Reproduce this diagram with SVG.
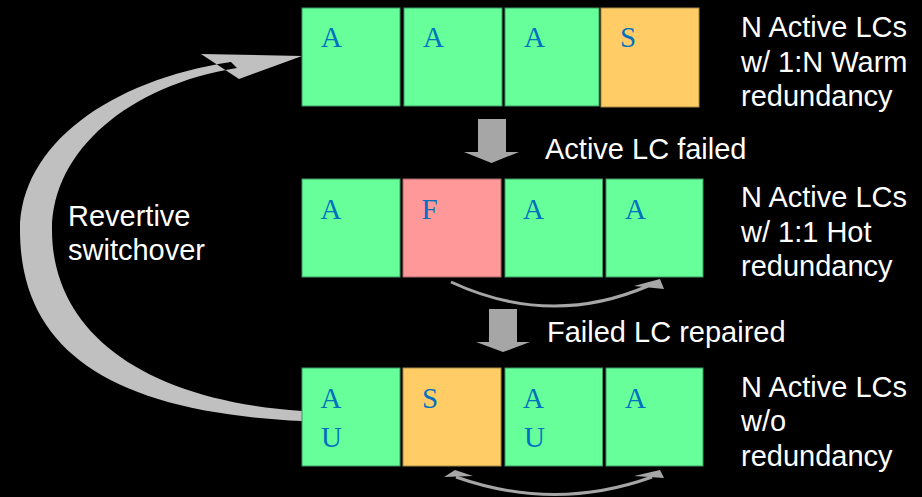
<svg xmlns="http://www.w3.org/2000/svg" width="922" height="497" viewBox="0 0 922 497">
<style>
.bg{fill:#000}
.g{fill:#66FF99;stroke:#3d9a62;stroke-width:1}
.o{fill:#FFCC66;stroke:#a88a44;stroke-width:1}
.p{fill:#FF9999;stroke:#a86666;stroke-width:1}
.l{font-family:"Liberation Serif","Times New Roman",serif;font-size:29px;fill:#0070C0}
.t{font-family:"Liberation Sans",Arial,sans-serif;font-size:29px;fill:#fff}
.dn{fill:#A6A6A6}
.arc{fill:none;stroke:#A6A6A6;stroke-width:3}
.ah{fill:#A6A6A6}
</style>
<rect class="bg" x="0" y="0" width="922" height="497"/>
<g id="connectors">
  <path id="revertive-arc" fill="#C0C0C0" fill-rule="evenodd" d="M231,62 C110,80 20,145 20,230 C20,350 110,412 302,421 L302,411 C140,400 52,330 52,230 C52,150 130,85 237,68 Z M201,54 L302,56 L239,79 Z"/>
  <polygon class="dn" points="478,119 506,119 506,152 519,152 491.5,163 464,152 478,152"/>
  <polygon class="dn" points="489,309 517,309 517,342 530,342 503,352 476,342 489,342"/>
  <path class="arc" d="M451,282 Q550,328 648,286"/>
  <polygon class="ah" points="634,286 660,279 664,289"/>
  <path class="arc" d="M456,477 Q555,512 652,477"/>
  <polygon class="ah" points="444,477 455,470 473,476"/>
  <polygon class="ah" points="634,476 660,470 664,478"/>
</g>
<g id="row1">
  <g id="r1c1"><rect class="g" x="302" y="8" width="98" height="98"/><text class="l" x="321" y="47">A</text></g>
  <g id="r1c2"><rect class="g" x="404" y="8" width="98" height="98"/><text class="l" x="423" y="47">A</text></g>
  <g id="r1c3"><rect class="g" x="505" y="8" width="94" height="98"/><text class="l" x="524" y="47">A</text></g>
  <g id="r1c4"><rect class="o" x="601" y="8" width="98" height="99"/><text class="l" x="620" y="47">S</text></g>
</g>
<g id="row2">
  <g id="r2c1"><rect class="g" x="302" y="179" width="98" height="98"/><text class="l" x="320.5" y="219">A</text></g>
  <g id="r2c2"><rect class="p" x="403" y="179" width="98" height="98"/><text class="l" x="421.5" y="219">F</text></g>
  <g id="r2c3"><rect class="g" x="505" y="179" width="97.5" height="98"/><text class="l" x="523" y="219">A</text></g>
  <g id="r2c4"><rect class="g" x="606" y="179" width="97" height="98"/><text class="l" x="625" y="219">A</text></g>
</g>
<g id="row3">
  <g id="r3c1"><rect class="g" x="302" y="368" width="98" height="98"/><text class="l" x="320.5" y="408">A</text><text class="l" x="321" y="446.5">U</text></g>
  <g id="r3c2"><rect class="o" x="403" y="368" width="98" height="98"/><text class="l" x="422" y="408">S</text></g>
  <g id="r3c3"><rect class="g" x="505" y="368" width="97.5" height="98"/><text class="l" x="523" y="408">A</text><text class="l" x="524" y="446.5">U</text></g>
  <g id="r3c4"><rect class="g" x="606" y="368" width="97" height="98"/><text class="l" x="625" y="408">A</text></g>
</g>
<g id="labels">
  <text class="t" x="545" y="159">Active LC failed</text>
  <text class="t" x="547" y="342">Failed LC repaired</text>
  <text class="t" x="68" y="226">Revertive</text>
  <text class="t" x="68" y="260">switchover</text>
  <text class="t" x="741" y="37">N Active LCs</text>
  <text class="t" x="741" y="71.5">w/ 1:N Warm</text>
  <text class="t" x="741" y="106">redundancy</text>
  <text class="t" x="741" y="207">N Active LCs</text>
  <text class="t" x="741" y="241.5">w/ 1:1 Hot</text>
  <text class="t" x="741" y="276">redundancy</text>
  <text class="t" x="741" y="397">N Active LCs</text>
  <text class="t" x="741" y="431">w/o</text>
  <text class="t" x="741" y="466">redundancy</text>
</g>
</svg>
